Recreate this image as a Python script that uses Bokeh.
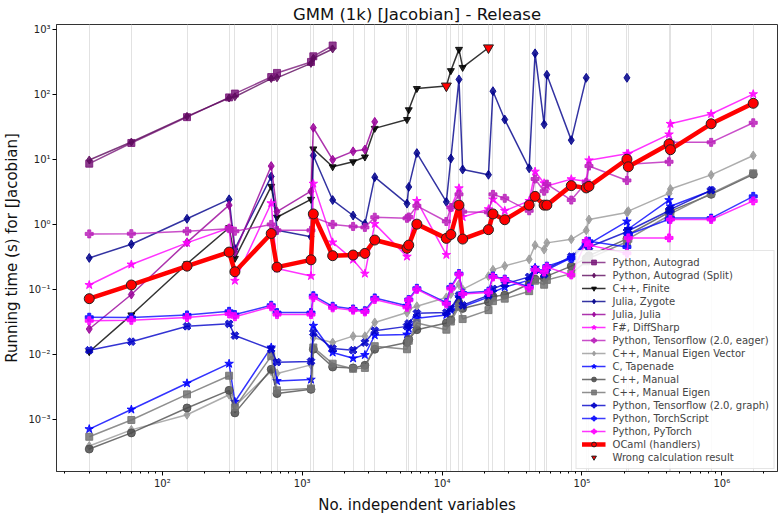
import math
from bokeh.plotting import figure
from bokeh.models import FixedTicker, CustomJSTickFormatter, Legend, LegendItem, ColumnDataSource
from bokeh.embed import file_html
from bokeh.resources import INLINE

nan = float("nan")

x_vars = [30, 60, 150, 300, 330, 600, 660, 1155, 1200, 1650, 2310, 2805, 3300, 5610, 5775, 6600,
          10725, 11550, 13200, 14025, 21450, 23100, 28050, 41925, 46200, 53625, 56100, 83850,
          107250, 112200, 209625, 214500, 419250, 429000, 838500, 1677000]

autograd = [8.6, 17.9, 44.7, 90, 103, 185, 214, 316, 386, 565]
autograd_split = [9.8, 18.5, 46, 88, 92, 175, 180, 300, 360, 500]
cpp_finite = [0.011, 0.0405, 0.248, 0.89, 0.30, 3.85, 1.29, 2.43, 14.5, 7.7, 9.2, 10.9, 30, 41, 58,
              123, 135, 232, 493, 260, 522]
julia_zygote = [0.305, 0.495, 1.22, 2.43, 0.42, 5.45, 0.81, 0.645, 11.5, 2.37, 1.37, 1.02, 5.33,
                2.09, 3.77, 12.5, 2.22, 10.3, 170, 7.0, 5.8, 112, 41, 7.3, 428, 34.7, 200, 19.8,
                180, nan, 180]
julia_julia = [0.0246, 0.0834, 0.53, 1.98, 0.375, 7.9, 1.57, 3.24, 30.7, 9.9, 13.3, 14.2, 37.8]
fsharp = [0.117, 0.242, 0.52, 0.88, 0.136, 2.12, 0.21, 0.161, 4.24, 0.53, 0.287, 0.175, 1.02,
          0.32, 0.45, 2.3, 0.34, 1.82, 3.6, 1.3, 1.72, 2.43, 1.62, 2.3, 6.5, 4.3, 3.9, 4.97, 4.6,
          9.7, 12.2, 12.2, 24.3, 35.3, 50, 101]
tf_eager = [0.715, 0.72, 0.785, 0.86, 0.785, 1.0, 0.81, 0.81, 1.29, 1.0, 0.93, 0.9, 1.29, 1.24,
            1.3, 1.93, 1.11, 1.82, 2.9, 1.57, 1.53, 2.9, 2.52, 1.62, 5.0, 3.24, 4.17, 2.37, 4.4,
            7.9, 4.75, 8.45, 9.2, 18.3, 18.3, 36.6]
eigen_vector = [0.00039, 0.00069, 0.00118, 0.0024, 0.0016, 0.0055, 0.0051, 0.0069, 0.018, 0.0152,
                0.0191, 0.019, 0.031, 0.044, 0.05, 0.055, 0.075, 0.085, 0.12, 0.10, 0.16, 0.20,
                0.23, 0.29, 0.48, 0.41, 0.52, 0.59, 0.81, 1.19, 1.53, 1.6, 3.0, 3.5, 5.78, 11.5]
tapenade = [0.00071, 0.00142, 0.0036, 0.0072, 0.00187, 0.0128, 0.0039, 0.0041, 0.0276, 0.0107,
            0.0087, 0.0098, 0.0197, 0.0203, 0.025, 0.036, 0.0405, 0.048, 0.076, 0.054, 0.076,
            0.091, 0.108, 0.139, 0.216, 0.17, 0.2, 0.305, 0.555, 0.5, 1.11, 0.85, 2.37, 1.9, 3.3]
cpp_manual = [0.00035, 0.00062, 0.0015, 0.0028, 0.00126, 0.0059, 0.0025, 0.0029, 0.012, 0.0064,
              0.0062, 0.0068, 0.012, 0.0152, 0.017, 0.024, 0.0305, 0.034, 0.062, 0.051, 0.064,
              0.078, 0.082, 0.121, 0.144, 0.15, 0.16, 0.228, 0.3, 0.33, 0.6, 0.7, 1.53, 1.6, 2.9, 5.9]
manual_eigen = [0.00054, 0.00098, 0.00243, 0.0047, 0.00153, 0.0094, 0.0028, 0.003, 0.0128, 0.0072,
                0.006, 0.0062, 0.0134, 0.012, 0.0162, 0.0305, 0.024, 0.032, 0.054, 0.035, 0.048,
                0.066, 0.072, 0.094, 0.136, 0.118, 0.14, 0.175, 0.27, 0.3, 0.54, 0.6, 1.37, 1.45,
                3.0, 6.1]
tf_graph = [0.0116, 0.0157, 0.0271, 0.0295, 0.0195, 0.012, 0.0076, 0.0078, 0.0215, 0.0123, 0.0116,
            0.0152, 0.0232, 0.027, 0.03, 0.043, 0.044, 0.051, 0.081, 0.057, 0.081, 0.102, 0.121,
            0.156, 0.197, 0.17, 0.21, 0.32, 0.495, 0.45, 0.77, 0.8, 1.62, 1.7, 3.36]
torchscript = [0.0373, 0.037, 0.0405, 0.046, 0.041, 0.057, 0.044, 0.044, 0.08, 0.055, 0.05, 0.047,
               0.074, 0.056, 0.07, 0.104, 0.0625, 0.108, 0.175, 0.088, 0.094, 0.161, 0.144, 0.11,
               0.203, 0.19, 0.228, 0.3, 0.5, 0.55, 0.45, 0.7, 1.2, 1.25, 1.25, 2.7]
pytorch = [0.033, 0.0335, 0.037, 0.042, 0.038, 0.054, 0.041, 0.041, 0.075, 0.052, 0.048, 0.045,
           0.07, 0.053, 0.068, 0.1, 0.06, 0.103, 0.17, 0.085, 0.09, 0.155, 0.14, 0.105, 0.2, 0.185,
           0.22, 0.167, 0.55, 0.48, 0.36, 0.62, 0.62, 1.19, 1.19, 2.3]
ocaml = [0.072, 0.117, 0.228, 0.375, 0.187, 0.725, 0.22, 0.285, 1.45, 0.33, 0.338, 0.358, 0.575,
         0.43, 0.48, 1.01, 0.61, 0.70, 1.98, 0.595, 0.83, 1.45, 1.18, 1.98, 2.7, 1.98, 1.98, 3.95,
         3.64, 3.85, 10.06, 7.7, 17.3, 14.1, 35.3, 73]
wrong_x = [10725, 21450]
wrong_y = [135, 522]

x_ticks = [1e2, 1e3, 1e4, 1e5, 1e6]
y_ticks = [1e-3, 1e-2, 1e-1, 1e0, 1e1, 1e2, 1e3]


def full(vals):
    return list(vals) + [nan] * (len(x_vars) - len(vals))


p = figure(width=782, height=516, x_axis_type="log", y_axis_type="log",
           x_range=(17.5, 2.5e6), y_range=(1.58e-4, 1190),
           output_backend="svg", toolbar_location=None,
           min_border_left=55, min_border_right=5, min_border_top=24, min_border_bottom=35)
p.title.text = "GMM (1k) [Jacobian] - Release"
p.title.align = "center"
p.title.text_font = "DejaVu Sans"
p.title.text_font_size = "16.5px"
p.title.text_font_style = "normal"
p.title.text_color = "#111111"
p.title.standoff = 2
p.outline_line_color = "#333333"
p.outline_line_alpha = 1

fmt_code = """
const e = Math.round(Math.log10(tick));
const m = {'-':'\u207b','0':'\u2070','1':'\u00b9','2':'\u00b2','3':'\u00b3','4':'\u2074','5':'\u2075','6':'\u2076','7':'\u2077','8':'\u2078','9':'\u2079'};
return '10' + String(e).split('').map(c => m[c]).join('');
"""
minor_x = []
for k in range(1, 7):
    for mnt in range(2, 10):
        minor_x.append(mnt * 10 ** k)
p.xaxis.ticker = FixedTicker(ticks=x_ticks, minor_ticks=minor_x)
p.yaxis.ticker = FixedTicker(ticks=y_ticks, minor_ticks=[])
p.xaxis.formatter = CustomJSTickFormatter(code=fmt_code)
p.yaxis.formatter = CustomJSTickFormatter(code=fmt_code)
for ax in (p.xaxis, p.yaxis):
    ax.major_label_text_font = "DejaVu Sans"
    ax.major_label_text_font_size = "10px"
    ax.major_label_text_color = "#222222"
    ax.axis_label_text_font = "DejaVu Sans"
    ax.axis_label_text_font_size = "15px"
    ax.axis_label_text_font_style = "normal"
    ax.axis_label_text_color = "#111111"
    ax.major_tick_out = 4
    ax.major_tick_in = 0
    ax.minor_tick_out = 2
    ax.minor_tick_in = 0
    ax.major_label_standoff = 2
    ax.axis_label_standoff = 4
    ax.axis_line_color = "#333333"
p.xaxis.axis_label = "No. independent variables"
p.yaxis.axis_label = "Running time (s) for [Jacobian]"

p.xgrid.ticker = FixedTicker(ticks=x_vars, minor_ticks=[])
p.xgrid.grid_line_color = "#e2e2e2"
p.xgrid.grid_line_width = 1
p.ygrid.grid_line_color = None

series = [
    ("Python, Autograd", autograd, "#7a1a7a", "square", 0, 7),
    ("Python, Autograd (Split)", autograd_split, "#5e0a5e", "diamond", 0, 8),
    ("C++, Finite", cpp_finite, "#000000", "inverted_triangle", 0, 7),
    ("Julia, Zygote", julia_zygote, "#00008b", "diamond", 0, 9),
    ("Julia, Julia", julia_julia, "#990099", "diamond", 0, 9),
    ("F#, DiffSharp", fsharp, "#ff00ff", "star", 0, 9),
    ("Python, Tensorflow (2.0, eager)", tf_eager, "#bb22bb", "plus", 0, 8),
    ("C++, Manual Eigen Vector", eigen_vector, "#999999", "diamond", 0, 9),
    ("C, Tapenade", tapenade, "#0000ff", "star", 0, 9),
    ("C++, Manual", cpp_manual, "#4d4d4d", "circle", 0, 8),
    ("C++, Manual Eigen", manual_eigen, "#737373", "square", 0, 7),
    ("Python, Tensorflow (2.0, graph)", tf_graph, "#0000c8", "plus", math.pi / 4, 8),
    ("Python, TorchScript", torchscript, "#0a0aff", "plus", 0, 8),
    ("Python, PyTorch", pytorch, "#ff00ff", "plus", 0, 8),
]

items = []
for name, vals, color, marker, ang, size in series:
    src = ColumnDataSource(data=dict(x=x_vars, y=full(vals)))
    ln = p.line("x", "y", source=src, line_color=color, line_width=1.5, line_alpha=0.8)
    sc = p.scatter("x", "y", source=src, marker=marker, angle=ang, size=size,
                   fill_color=color, line_color=color, fill_alpha=0.85, line_alpha=0.85)
    items.append(LegendItem(label=name, renderers=[ln, sc]))

src_o = ColumnDataSource(data=dict(x=x_vars, y=full(ocaml)))
ln_o = p.line("x", "y", source=src_o, line_color="red", line_width=4.5, line_alpha=1)
sc_o = p.scatter("x", "y", source=src_o, marker="circle", size=10, fill_color="red",
                 line_color="#222222", line_width=1)
items.append(LegendItem(label="OCaml (handlers)", renderers=[ln_o, sc_o]))

src_w = ColumnDataSource(data=dict(x=wrong_x, y=wrong_y))
sc_w = p.scatter("x", "y", source=src_w, marker="inverted_triangle", size=10, fill_color="red",
                 line_color="#222222", line_width=1)
items.append(LegendItem(label="Wrong calculation result", renderers=[sc_w]))

legend = Legend(items=items, location="bottom_right")
legend.label_text_font = "DejaVu Sans"
legend.label_text_font_size = "10px"
legend.label_height = 12
legend.glyph_height = 12
legend.glyph_width = 24
legend.spacing = 1
legend.padding = 5
legend.margin = 2
legend.label_standoff = 7
legend.background_fill_alpha = 0.85
legend.border_line_color = "#cccccc"
p.add_layout(legend)

open("out.html", "w").write(file_html(p, INLINE))
